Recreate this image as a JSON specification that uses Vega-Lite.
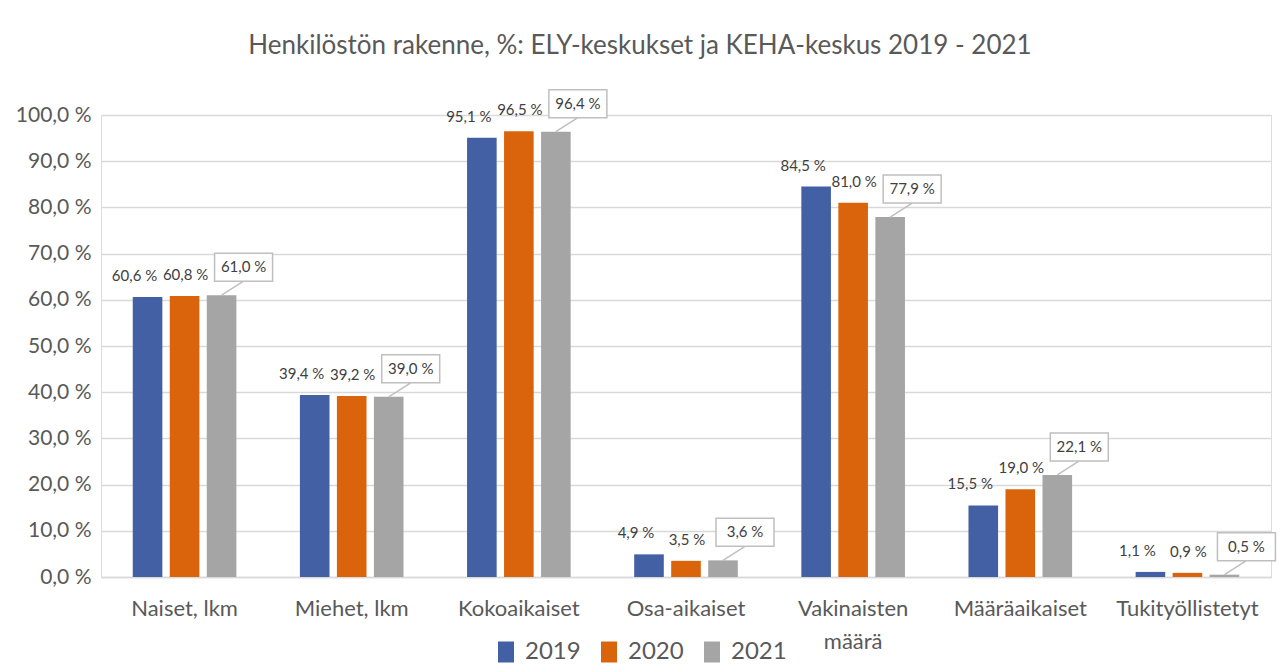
{
  "$schema": "https://vega.github.io/schema/vega-lite/v6.json",
  "width": 1170,
  "height": 462,
  "autosize": {"type": "none"},
  "padding": {"left": 101, "top": 115, "right": 9, "bottom": 95},
  "background": "white",
  "title": {
    "text": "Henkilöstön rakenne, %: ELY-keskukset ja KEHA-keskus 2019 - 2021",
    "font": "Lato",
    "fontSize": 26,
    "fontWeight": "normal",
    "color": "#595959",
    "anchor": "middle",
    "dx": -46,
    "offset": 28
  },
  "data": {
    "values": [
      {"cat": "Naiset, lkm", "year": "2019", "value": 60.6},
      {"cat": "Naiset, lkm", "year": "2020", "value": 60.8},
      {"cat": "Naiset, lkm", "year": "2021", "value": 61.0},
      {"cat": "Miehet, lkm", "year": "2019", "value": 39.4},
      {"cat": "Miehet, lkm", "year": "2020", "value": 39.2},
      {"cat": "Miehet, lkm", "year": "2021", "value": 39.0},
      {"cat": "Kokoaikaiset", "year": "2019", "value": 95.1},
      {"cat": "Kokoaikaiset", "year": "2020", "value": 96.5},
      {"cat": "Kokoaikaiset", "year": "2021", "value": 96.4},
      {"cat": "Osa-aikaiset", "year": "2019", "value": 4.9},
      {"cat": "Osa-aikaiset", "year": "2020", "value": 3.5},
      {"cat": "Osa-aikaiset", "year": "2021", "value": 3.6},
      {"cat": "Vakinaisten määrä", "year": "2019", "value": 84.5},
      {"cat": "Vakinaisten määrä", "year": "2020", "value": 81.0},
      {"cat": "Vakinaisten määrä", "year": "2021", "value": 77.9},
      {"cat": "Määräaikaiset", "year": "2019", "value": 15.5},
      {"cat": "Määräaikaiset", "year": "2020", "value": 19.0},
      {"cat": "Määräaikaiset", "year": "2021", "value": 22.1},
      {"cat": "Tukityöllistetyt", "year": "2019", "value": 1.1},
      {"cat": "Tukityöllistetyt", "year": "2020", "value": 0.9},
      {"cat": "Tukityöllistetyt", "year": "2021", "value": 0.5}
    ]
  },
  "transform": [
    {"calculate": "replace(format(datum.value, '.1f'), '.', ',') + ' %'", "as": "label"}
  ],
  "encoding": {
    "x": {
      "field": "cat",
      "type": "nominal",
      "sort": null,
      "title": null,
      "scale": {"paddingInner": 0.38, "paddingOuter": 0.19},
      "axis": {
        "labelAngle": 0,
        "labelFont": "Lato",
        "labelFontSize": 22,
        "labelColor": "#595959",
        "labelPadding": 21,
        "labelLineHeight": 33,
        "labelExpr": "datum.label == 'Vakinaisten määrä' ? ['Vakinaisten', 'määrä'] : datum.label",
        "ticks": false,
        "domainColor": "#d9d9d9",
        "domainWidth": 1.5,
        "grid": false
      }
    },
    "xOffset": {
      "field": "year",
      "type": "nominal",
      "scale": {"paddingInner": 0.2, "paddingOuter": 0}
    },
    "y": {
      "field": "value",
      "type": "quantitative",
      "title": null,
      "scale": {"domain": [0, 100], "nice": false},
      "axis": {
        "values": [0, 10, 20, 30, 40, 50, 60, 70, 80, 90, 100],
        "labelExpr": "replace(format(datum.value, '.1f'), '.', ',') + ' %'",
        "labelFont": "Lato",
        "labelFontSize": 21,
        "labelColor": "#595959",
        "labelPadding": 10,
        "ticks": false,
        "domain": false,
        "gridColor": "#d9d9d9",
        "gridWidth": 1.5
      }
    }
  },
  "layer": [
    {
      "mark": {"type": "bar"},
      "encoding": {
        "color": {
          "field": "year",
          "type": "nominal",
          "title": null,
          "scale": {"domain": ["2019", "2020", "2021"], "range": ["#4360A5", "#DA640C", "#A5A5A5"]},
          "legend": {
            "orient": "none",
            "direction": "horizontal",
            "legendX": 393,
            "legendY": 525,
            "symbolType": "M-0.76,-1H0.76V1H-0.76Z",
            "symbolSize": 441,
            "symbolStrokeWidth": 0,
            "symbolOpacity": 1,
            "labelFont": "Lato",
            "labelFontSize": 24,
            "labelColor": "#595959",
            "labelOffset": 7,
            "columnPadding": 16
          }
        }
      }
    },
    {
      "transform": [{"filter": "datum.year == '2021'"}],
      "mark": {
        "type": "point",
        "shape": "M0,0L2.2,-1.4M-0.7,-1.4H5.1V-4.2H-0.7Z",
        "size": 400,
        "filled": true,
        "fill": "white",
        "stroke": "#bfbfbf",
        "strokeWidth": 1.5,
        "opacity": 1
      }
    },
    {
      "transform": [{"filter": "datum.year == '2019'"}],
      "mark": {"type": "text", "font": "Lato", "fontSize": 15, "color": "#404040", "dx": -13, "dy": -21, "baseline": "middle"},
      "encoding": {"text": {"field": "label"}}
    },
    {
      "transform": [{"filter": "datum.year == '2020'"}],
      "mark": {"type": "text", "font": "Lato", "fontSize": 15, "color": "#404040", "dx": 1, "dy": -21, "baseline": "middle"},
      "encoding": {"text": {"field": "label"}}
    },
    {
      "transform": [{"filter": "datum.year == '2021'"}],
      "mark": {"type": "text", "font": "Lato", "fontSize": 15, "color": "#404040", "dx": 22, "dy": -28, "baseline": "middle"},
      "encoding": {"text": {"field": "label"}}
    }
  ]
}
